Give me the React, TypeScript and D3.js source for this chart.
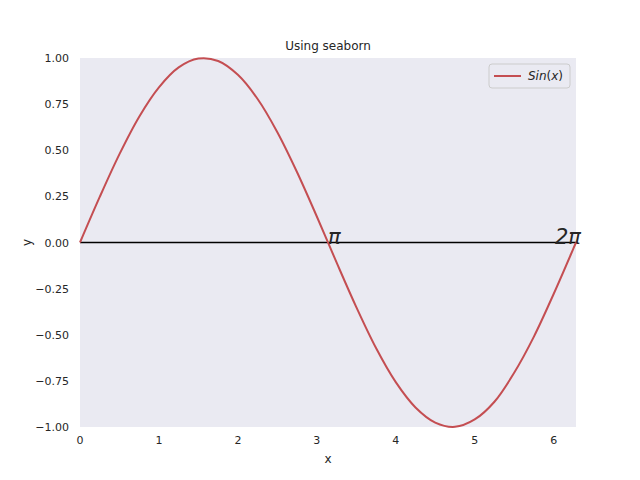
import React from "react";
import * as d3 from "d3";

const xs = [0,0.25,0.5,0.75,1,1.25,1.5,1.75,2,2.25,2.5,2.75,3,3.25,3.5,3.75,4,4.25,4.5,4.75,5,5.25,5.5,5.75,6,6.25,6.283];
const ys = [0,0.247,0.479,0.682,0.841,0.949,0.997,0.984,0.909,0.778,0.598,0.381,0.141,-0.108,-0.350,-0.572,-0.757,-0.894,-0.976,-0.999,-0.959,-0.863,-0.706,-0.510,-0.279,-0.033,0];
const xTicks = [0,1,2,3,4,5,6];
const yTicks = [1,0.75,0.5,0.25,0,-0.25,-0.5,-0.75,-1];
const annotations = [{ x: 3.1416, label: "π" }, { x: 6.2832, label: "2π" }];

export default function App() {
  const L = 80, R = 576, T = 58, B = 427;
  const x = d3.scaleLinear().domain([0, 6.2832]).range([L, R]);
  const y = d3.scaleLinear().domain([-1, 1]).range([B, T]);
  const line = d3.line<number>().x((_, i) => x(xs[i])).y(d => y(d)).curve(d3.curveCatmullRom);
  const font = "DejaVu Sans, sans-serif";
  return (
    <svg width={640} height={480} style={{ position: "absolute", left: 0, top: 0 }} fontFamily={font}>
      <rect width={640} height={480} fill="#fff" />
      <rect x={L} y={T} width={R - L} height={B - T} fill="#eaeaf2" />
      <line x1={L} x2={R} y1={y(0)} y2={y(0)} stroke="#000" strokeWidth={1.5} />
      <path d={line(ys) || ""} fill="none" stroke="#c44e52" strokeWidth={2} />
      {annotations.map(a => (
        <text key={a.label} x={x(a.x) - (a.label.length > 1 ? 21 : 0)} y={y(0) + 1} fontSize={21} fill="#262626" fontStyle="italic">{a.label}</text>
      ))}
      {xTicks.map(t => (
        <text key={t} x={x(t)} y={B + 17} fontSize={11} textAnchor="middle" fill="#262626">{t}</text>
      ))}
      {yTicks.map(t => (
        <text key={t} x={L - 11} y={y(t) + 4} fontSize={11} textAnchor="end" fill="#262626">{t.toFixed(2).replace("-", "−")}</text>
      ))}
      <text x={(L + R) / 2} y={50} fontSize={12} textAnchor="middle" fill="#262626">Using seaborn</text>
      <text x={(L + R) / 2} y={463} fontSize={12} textAnchor="middle" fill="#262626">x</text>
      <text transform={`translate(31,${(T + B) / 2}) rotate(-90)`} fontSize={12} textAnchor="middle" fill="#262626">y</text>
      <rect x={489} y={64} width={81} height={24} rx={3} fill="#eaeaf2" stroke="#cccccc" />
      <line x1={494} x2={521} y1={76} y2={76} stroke="#c44e52" strokeWidth={2} />
      <text x={528} y={80} fontSize={12} fill="#262626"><tspan fontStyle="italic">Sin</tspan>(<tspan fontStyle="italic">x</tspan>)</text>
    </svg>
  );
}
